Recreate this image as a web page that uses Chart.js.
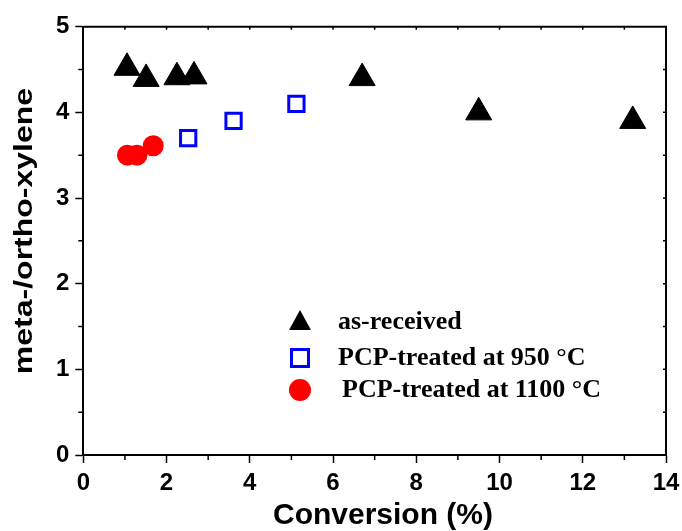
<!DOCTYPE html>
<html>
<head>
<meta charset="utf-8">
<script src="https://cdn.jsdelivr.net/npm/chart.js@4.4.1/dist/chart.umd.min.js"></script>
<style>
  body { margin: 0; background: #fff; }
  #wrap { width: 682px; height: 531px; }
</style>
</head>
<body>
<div id="wrap"><canvas id="chart" width="682" height="531"></canvas></div>
<script>
// values
const seriesNames = ['as-received', 'PCP-treated at 950 °C', 'PCP-treated at 1100 °C'];
const asReceivedX = [1.05, 1.51, 2.25, 2.66, 6.70, 9.50, 13.20];
const asReceivedY = [4.52, 4.39, 4.41, 4.42, 4.40, 4.00, 3.90];
const pcp950X = [2.52, 3.61, 5.12];
const pcp950Y = [3.70, 3.90, 4.10];
const pcp1100X = [1.06, 1.29, 1.68];
const pcp1100Y = [3.50, 3.50, 3.61];
const xTicks = [0, 2, 4, 6, 8, 10, 12, 14];
const yTicks = [0, 1, 2, 3, 4, 5];
const xTitle = 'Conversion (%)';
const yTitle = 'meta-/ortho-xylene';

const pts = (xs, ys) => xs.map((x, i) => ({ x: x, y: ys[i] }));
const sans = 'Arial, "Liberation Sans", sans-serif';

// minor ticks, top/right frame, axis titles and the inside legend
const framePlugin = {
  id: 'frame',
  afterDraw(chart) {
    const { ctx, chartArea: a, scales: { x, y } } = chart;
    ctx.save();
    ctx.strokeStyle = '#000';
    ctx.lineWidth = 2;
    ctx.beginPath();
    ctx.moveTo(a.left, a.top);
    ctx.lineTo(a.right, a.top);
    ctx.lineTo(a.right, a.bottom);
    ctx.stroke();

    ctx.lineWidth = 1.5;
    ctx.beginPath();
    for (let v = 1; v < 14; v += 2) {
      const px = x.getPixelForValue(v);
      ctx.moveTo(px, a.bottom);
      ctx.lineTo(px, a.bottom + 5);
    }
    for (let v = 0.5; v < 5; v += 1) {
      const py = y.getPixelForValue(v);
      ctx.moveTo(a.left, py);
      ctx.lineTo(a.left - 5, py);
    }
    for (let v = 1; v < 14; v++) {
      const px = x.getPixelForValue(v);
      ctx.moveTo(px, a.top);
      ctx.lineTo(px, a.top + 3);
    }
    for (let v = 0.5; v < 5; v += 0.5) {
      const py = y.getPixelForValue(v);
      ctx.moveTo(a.right, py);
      ctx.lineTo(a.right - 3, py);
    }
    ctx.stroke();

    // axis titles
    ctx.fillStyle = '#000';
    ctx.textAlign = 'center';
    ctx.textBaseline = 'middle';
    ctx.font = 'bold 30px ' + sans;
    ctx.fillText(xTitle, 383, 516);

    ctx.save();
    ctx.translate(25, 231);
    ctx.rotate(-Math.PI / 2);
    ctx.scale(1.28, 1);
    ctx.font = 'bold 25px ' + sans;
    ctx.fillText(yTitle, 0, 0);
    ctx.restore();

    // legend
    const rows = [322, 358, 390];
    const mx = 300;
    ctx.beginPath();
    ctx.moveTo(mx, rows[0] - 12);
    ctx.lineTo(mx + 11, rows[0] + 8);
    ctx.lineTo(mx - 11, rows[0] + 8);
    ctx.closePath();
    ctx.fill();

    ctx.strokeStyle = '#0000ff';
    ctx.lineWidth = 3;
    ctx.strokeRect(mx - 8.5, rows[1] - 8.5, 17, 17);

    ctx.fillStyle = '#ff0000';
    ctx.beginPath();
    ctx.arc(mx, rows[2], 11, 0, Math.PI * 2);
    ctx.fill();

    ctx.fillStyle = '#000';
    ctx.textAlign = 'left';
    ctx.font = 'bold 26px "Liberation Serif", "Times New Roman", serif';
    ctx.fillText(seriesNames[0], 338, rows[0]);
    ctx.fillText(seriesNames[1], 338, rows[1]);
    ctx.fillText(seriesNames[2], 342, rows[2]);
    ctx.restore();
  }
};

new Chart(document.getElementById('chart'), {
  type: 'scatter',
  data: {
    datasets: [
      {
        label: seriesNames[0],
        data: pts(asReceivedX, asReceivedY),
        pointStyle: 'triangle',
        pointRadius: 15,
        backgroundColor: '#000',
        borderColor: '#000',
        borderWidth: 1
      },
      {
        label: seriesNames[1],
        data: pts(pcp950X, pcp950Y),
        pointStyle: 'rect',
        pointRadius: 10.8,
        backgroundColor: 'rgba(0,0,0,0)',
        borderColor: '#0000ff',
        borderWidth: 3
      },
      {
        label: seriesNames[2],
        data: pts(pcp1100X, pcp1100Y),
        pointStyle: 'circle',
        pointRadius: 10.5,
        backgroundColor: '#ff0000',
        borderColor: '#ff0000',
        borderWidth: 0
      }
    ]
  },
  options: {
    responsive: false,
    animation: false,
    layout: { padding: { top: 26.7, right: 0, left: 0, bottom: 0 } },
    plugins: { legend: { display: false }, tooltip: { enabled: false } },
    scales: {
      x: {
        type: 'linear',
        min: 0, max: 14,
        afterBuildTicks: s => { s.ticks = xTicks.map(v => ({ value: v })); },
        afterFit: s => { s.height = 76; s.paddingRight = 15.3; s.paddingLeft = 0; },
        grid: { display: true, drawOnChartArea: false, tickLength: 8, tickWidth: 1.5, tickColor: '#000' },
        border: { color: '#000', width: 2 },
        ticks: { color: '#000', padding: 6, font: { family: sans, weight: 'bold', size: 24 } },
        title: { display: false }
      },
      y: {
        type: 'linear',
        min: 0, max: 5,
        afterBuildTicks: s => { s.ticks = yTicks.map(v => ({ value: v })); },
        afterFit: s => { s.width = 83.3; s.paddingTop = 0; s.paddingBottom = 0; },
        grid: { display: true, drawOnChartArea: false, tickLength: 8, tickWidth: 1.5, tickColor: '#000' },
        border: { color: '#000', width: 2 },
        ticks: { color: '#000', padding: 6, font: { family: sans, weight: 'bold', size: 24 } },
        title: { display: false }
      }
    }
  },
  plugins: [framePlugin]
});
</script>
</body>
</html>
